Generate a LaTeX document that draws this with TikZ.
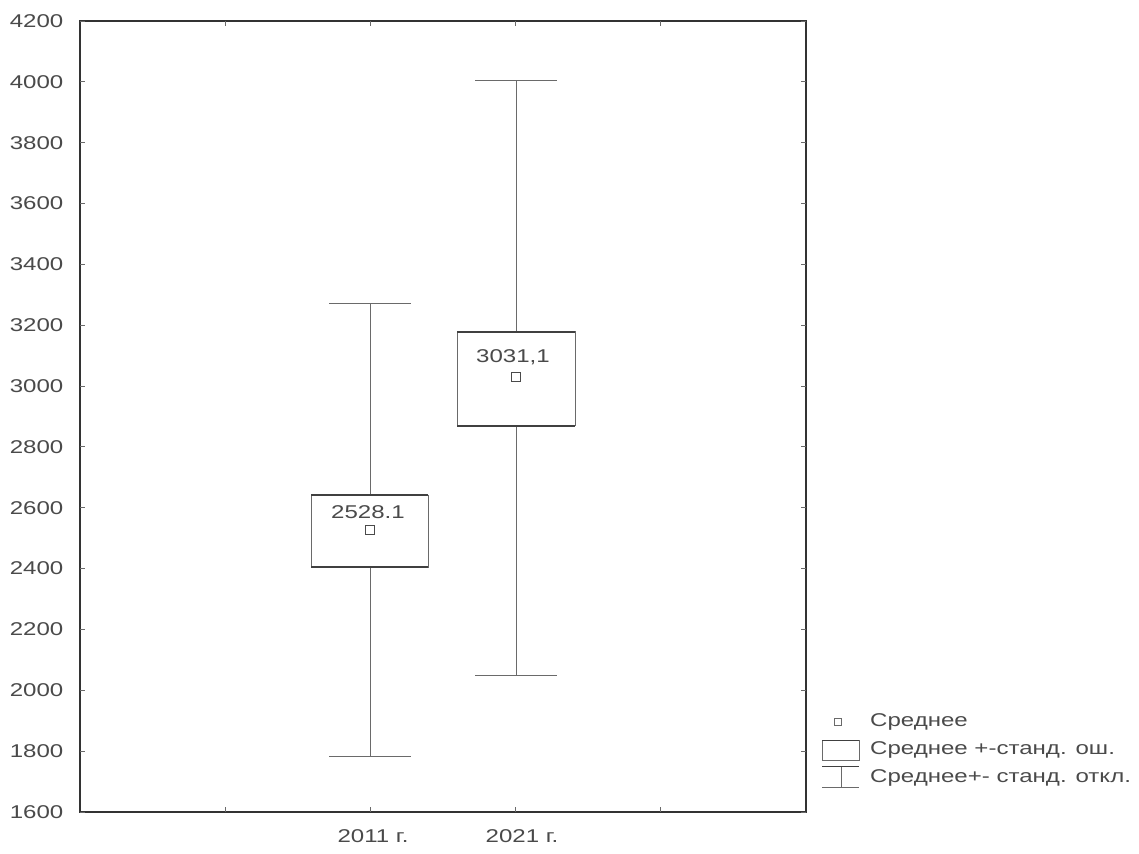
\documentclass[tikz,border=0pt]{standalone}
\usepackage{fontspec}
\setmainfont{Liberation Sans}[FakeStretch=1.3]
\usetikzlibrary{positioning}

\definecolor{inkgray}{HTML}{4A4A4A}
\definecolor{linegray}{HTML}{6A6A6A}

\begin{document}
\begin{tikzpicture}[x=1pt, y=0.30425pt,
  every node/.style={font=\fontsize{18.5}{20}\selectfont, text=inkgray, inner sep=0pt},
  frame/.style={draw=black!80, line width=1.3pt},
  tick/.style={draw=linegray, line width=0.8pt},
  whisk/.style={draw=linegray, line width=1pt},
  sebox/.style={draw=linegray, line width=0.9pt, fill=white},
  seedge/.style={draw=black!75, line width=1.4pt},
  meanpt/.style={draw=inkgray, line width=0.8pt, minimum size=9pt, fill=white},
  ticklab/.style={anchor=east},
  leglab/.style={anchor=west}]
  \useasboundingbox (0,1465.24) rectangle (1139,4268.9);

  % Frame and ticks
  \draw[frame] (80,1600) rectangle (806,4200);
  \foreach \v in {1600,1800,...,4200} {
    \draw[tick] (80,\v) -- ++(5,0);
    \draw[tick] (806,\v) -- ++(-5,0);
    \node[ticklab] (t\v) at (63.5,\v) {\v};
  }
  \foreach \x in {225.2,370.4,515.6,660.8} {
    \draw[tick] (\x,1600) -- ++(0,16);
    \draw[tick] (\x,4200) -- ++(0,-16);
  }

  % Category labels
  \node (c11) at (373,1521) {2011 г.};
  \node (c21) at (522,1521) {2021 г.};

  % 2011 whisker and box
  \coordinate (hi11) at (370,3270);
  \coordinate (lo11) at (370,1781);
  \draw[whisk] (hi11) -- (lo11);
  \draw[whisk] ([xshift=-41pt]hi11) -- ([xshift=41pt]hi11);
  \draw[whisk] ([xshift=-41pt]lo11) -- ([xshift=41pt]lo11);
  \draw[sebox] (311,2405) rectangle (428,2642);
  \draw[seedge] (311,2642) -- (428,2642);
  \draw[seedge] (311,2405) -- (428,2405);
  \node[meanpt] (m11) at (370,2528.1) {};
  \node (v11) at (368,2586) {2528.1};

  % 2021 whisker and box
  \coordinate (hi21) at (516,4005);
  \coordinate (lo21) at (516,2048);
  \draw[whisk] (hi21) -- (lo21);
  \draw[whisk] ([xshift=-41pt]hi21) -- ([xshift=41pt]hi21);
  \draw[whisk] ([xshift=-41pt]lo21) -- ([xshift=41pt]lo21);
  \draw[sebox] (457,2869) rectangle (575,3178);
  \draw[seedge] (457,3178) -- (575,3178);
  \draw[seedge] (457,2869) -- (575,2869);
  \node[meanpt] (m21) at (516,3031.1) {};
  \node (v21) at (513,3095.5) {3031,1};

  % Legend
  \node[meanpt, minimum size=7pt, draw=linegray] (lgm) at (838,1896) {};
  \node[leglab] (lgmt) at (870,1896) {Среднее};
  \draw[sebox] (822,1771) rectangle (859,1836.6);
  \draw[seedge, line width=1pt] (822,1836.6) -- (859,1836.6);
  \node[leglab] (lgbt) at (870,1804) {Среднее +-станд. ош.};
  \coordinate (lgwt) at (841,1748);
  \coordinate (lgwb) at (841,1679);
  \draw[whisk] (lgwt) -- (lgwb);
  \draw[whisk, draw=black!75] ([xshift=-19pt]lgwt) -- ([xshift=18pt]lgwt);
  \draw[whisk] ([xshift=-19pt]lgwb) -- ([xshift=18pt]lgwb);
  \node[leglab] (lgwtx) at (870,1712) {Среднее+- станд. откл.};
\end{tikzpicture}
\end{document}
